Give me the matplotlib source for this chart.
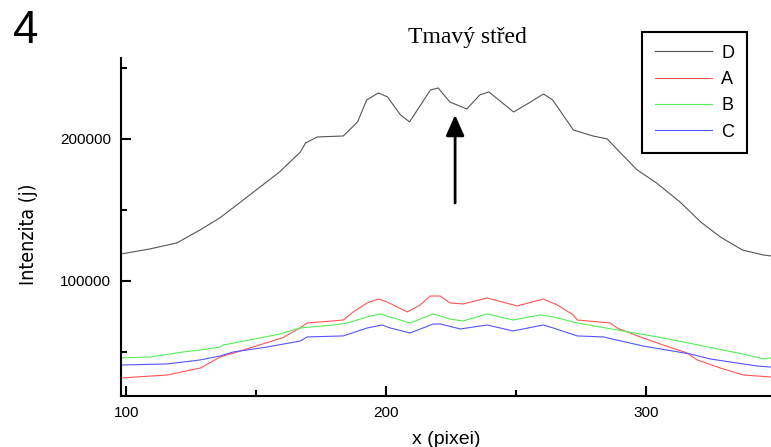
import matplotlib
matplotlib.use('Agg')
import matplotlib.pyplot as plt
from matplotlib.ticker import MultipleLocator

# Odhadnuté hodnoty z obrázku
d_x = [98, 109, 119.5, 128.5, 136, 144, 151.5, 159, 167, 169, 173.5, 183.5, 189, 192.5,
       197, 200.5, 205.5, 209, 217, 220, 224.5, 231, 236, 239.5, 249, 255.5, 260.5, 264,
       272, 279.5, 285, 289, 296.5, 304, 313, 321, 328.5, 337, 345, 348]
d_y = [119000, 122500, 126800, 136000, 144400, 155600, 166200, 176800, 190800, 197200,
       201400, 202100, 212000, 227500, 232400, 229600, 216900, 212000, 234500, 235900,
       226000, 221100, 231000, 233100, 219000, 226000, 231700, 227500, 206300, 202100,
       200000, 192300, 178200, 169000, 155600, 141500, 131000, 121800, 118300, 117600]

a_x = [98, 115.8, 128.5, 136.2, 142.7, 148.8, 160, 166.9, 169.6, 183.5, 187.3, 192.7,
       196.9, 200.4, 208.1, 213.1, 216.9, 220.8, 224.6, 229.6, 238.8, 250.4, 260.4, 265.8,
       271.9, 273.5, 286.2, 288.8, 297.7, 306.5, 315.8, 319.6, 328.5, 337.3, 348]
a_y = [31700, 33800, 38700, 46500, 50000, 53500, 59900, 66900, 70400, 72500, 78200, 84500,
       87300, 85200, 78200, 83100, 89400, 89400, 84500, 83800, 88000, 82400, 87300, 83100,
       76100, 72500, 70400, 66900, 60600, 54900, 49300, 44400, 38700, 33800, 32400]

b_x = [98, 109.2, 121.9, 128.5, 136.2, 137.3, 147.7, 159.2, 166.9, 179.6, 185, 192.7,
       197.7, 201.5, 209.2, 218.1, 224.6, 229.6, 238.8, 248.8, 259.2, 264.2, 273.5, 288.8,
       306.5, 325.8, 338.8, 345, 348]
b_y = [45800, 46500, 50000, 51400, 53500, 54900, 58500, 62700, 66900, 69000, 70400, 74700,
       76800, 74700, 70400, 76800, 73200, 71800, 76800, 72500, 76100, 74700, 70400, 65500,
       59900, 52800, 47900, 45100, 45800]

c_x = [98, 115.8, 128.5, 136.2, 141.2, 154.2, 166.9, 169.6, 183.5, 192.7, 198.5, 201.5,
       209.2, 218.1, 220.8, 228.5, 238.8, 248.8, 260.4, 264.2, 273.5, 283.5, 298.8, 316.9,
       324.6, 342.7, 348]
c_y = [40800, 41600, 44400, 47200, 50000, 53500, 57700, 60600, 61300, 66900, 69000, 66900,
       63400, 69700, 69700, 66200, 69000, 64800, 69000, 66900, 61300, 60600, 54200, 48600,
       45100, 40100, 39400]

arrow_x = 226.5
arrow_od = 154900
arrow_do = 216900

fig = plt.figure(figsize=(7.71, 4.47), dpi=100)
ax = fig.add_axes([121/771, 51/447, 650/771, 338/447])

ax.plot(d_x, d_y, color='#555555', lw=0.8, label='D')
ax.plot(a_x, a_y, color='#ff5555', lw=0.8, label='A')
ax.plot(b_x, b_y, color='#55ee55', lw=0.8, label='B')
ax.plot(c_x, c_y, color='#5555ff', lw=0.8, label='C')

ax.annotate('', xy=(arrow_x, arrow_do), xytext=(arrow_x, arrow_od),
            arrowprops=dict(arrowstyle='-|>,head_length=0.9,head_width=0.4',
                            mutation_scale=14, lw=2, color='black',
                            shrinkA=0, shrinkB=0))

ax.set_xlim(98, 348)
ax.set_ylim(19000, 257000)
ax.xaxis.set_major_locator(MultipleLocator(100))
ax.xaxis.set_minor_locator(MultipleLocator(50))
ax.yaxis.set_major_locator(MultipleLocator(100000))
ax.yaxis.set_minor_locator(MultipleLocator(50000))

ax.spines['top'].set_visible(False)
ax.spines['right'].set_visible(False)
ax.spines['left'].set_linewidth(1.5)
ax.spines['bottom'].set_linewidth(1.5)

ax.tick_params(which='major', direction='in', length=7, width=1.5, pad=7)
ax.tick_params(which='minor', direction='in', length=4, width=1.5)
for lab in ax.get_xticklabels() + ax.get_yticklabels():
    lab.set_fontfamily('Liberation Sans')
    lab.set_fontsize(11)

ax.set_xlabel('x (pixei)', fontfamily='Liberation Sans', fontsize=14, labelpad=8)
fig.text(0.037, 0.476, 'Intenzita (j)', rotation=90, va='center', ha='center',
         fontfamily='DejaVu Sans', fontstretch='condensed', fontsize=14)

fig.text(467/771, 1 - 38/447, 'Tmavý střed', ha='center', va='center',
         fontfamily='Liberation Serif', fontsize=17)
fig.text(13/771, 1 - 31/447, '4', ha='left', va='center',
         fontfamily='Liberation Sans', fontsize=33)

leg = ax.legend(loc='upper left', bbox_to_anchor=(642/771, 1 - 32/447),
                bbox_transform=fig.transFigure, borderaxespad=0,
                fancybox=False, edgecolor='black', framealpha=1,
                prop={'family': 'Liberation Sans', 'size': 13},
                handlelength=3.2, handletextpad=0.5, borderpad=0.7,
                labelspacing=0.52)
leg.get_frame().set_linewidth(1.5)

fig.savefig('out.png', dpi=100)
